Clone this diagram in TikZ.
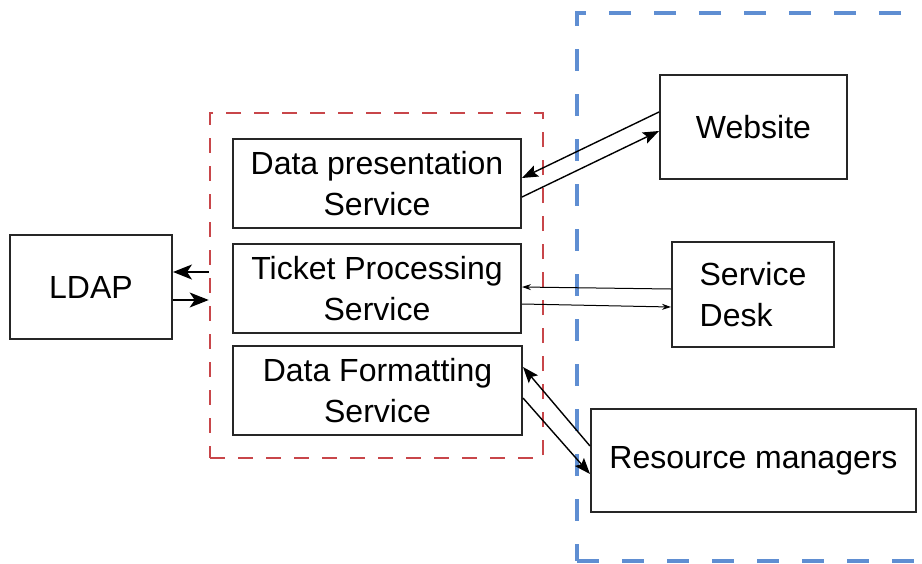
\documentclass[tikz,border=0pt]{standalone}
\usepackage{fontspec}
\setmainfont{Liberation Sans}
\usetikzlibrary{arrows.meta,calc}
\definecolor{grpred}{RGB}{200,70,74}
\definecolor{grpblue}{RGB}{95,142,210}
\tikzset{
  box/.style={draw=black!85, line width=2pt, rectangle, inner sep=0pt,
    font=\fontsize{32}{41}\selectfont, align=center},
  redgrp/.style={draw=grpred, line width=2.6pt, dash pattern=on 15pt off 13pt, rectangle, inner sep=0pt},
  bluegrp/.style={draw=grpblue, line width=3.6pt, dash pattern=on 22pt off 23pt, rectangle, inner sep=0pt},
  bigarr/.style={line width=1.6pt, -{Stealth[length=19pt,width=15pt,inset=5pt]}},
  midarr/.style={line width=1.4pt, -{Stealth[length=16pt,width=12pt,inset=3pt]}},
  smallarr/.style={line width=1pt, -{Stealth[length=9pt,width=6pt]}},
}
\begin{document}
\begin{tikzpicture}[x=1pt,y=-1pt]
\useasboundingbox (0,0) rectangle (922,563);
\clip (0,0) rectangle (922,563);
\fill[white] (0,0) rectangle (922,563);

\node[bluegrp, minimum width=383pt, minimum height=548pt] (ext) at (768.5,287) {};
\node[redgrp, minimum width=333pt, minimum height=345pt] (grp) at (376.5,285.5) {};

\node[box, minimum width=162pt, minimum height=104pt] (ldap) at (91,287) {LDAP};
\node[box, minimum width=288pt, minimum height=89pt] (dp) at (377,183.5) {Data presentation\\Service};
\node[box, minimum width=288pt, minimum height=89pt] (tp) at (377,288.5) {Ticket Processing\\Service};
\node[box, minimum width=289pt, minimum height=89pt] (df) at (377.5,390.5) {Data Formatting\\Service};
\node[box, minimum width=187pt, minimum height=104pt] (web) at (753.5,127) {Website};
\node[box, minimum width=162pt, minimum height=105pt, align=left] (sd) at (753,294.5) {Service\\Desk};
\node[box, minimum width=325pt, minimum height=103pt] (rm) at (753.5,460.5) {Resource managers};

% LDAP <-> group
\draw[bigarr] ($(grp.west)+(0,-13.5)$) -- ($(ldap.east)+(0,-15)$);
\draw[bigarr] ($(ldap.east)+(0,13)$) -- ($(grp.west)+(0,14.5)$);

% Website <-> Data presentation
\draw[midarr] ($(web.west)+(0,-15)$) -- ($(dp.east)+(0,-5.5)$);
\draw[midarr] ($(dp.east)+(0,13.5)$) -- ($(web.west)+(0,4)$);

% Service Desk <-> Ticket Processing
\draw[smallarr] ($(sd.west)+(0,-5.5)$) -- ($(tp.east)+(0,-1.5)$);
\draw[smallarr] ($(tp.east)+(0,15.5)$) -- ($(sd.west)+(0,12.5)$);

% Resource managers <-> Data Formatting
\draw[midarr] ($(rm.west)+(0,-14.5)$) -- ($(df.east)+(0,-23.5)$);
\draw[midarr] ($(df.east)+(0,7.5)$) -- ($(rm.west)+(0,13.5)$);
\end{tikzpicture}
\end{document}
